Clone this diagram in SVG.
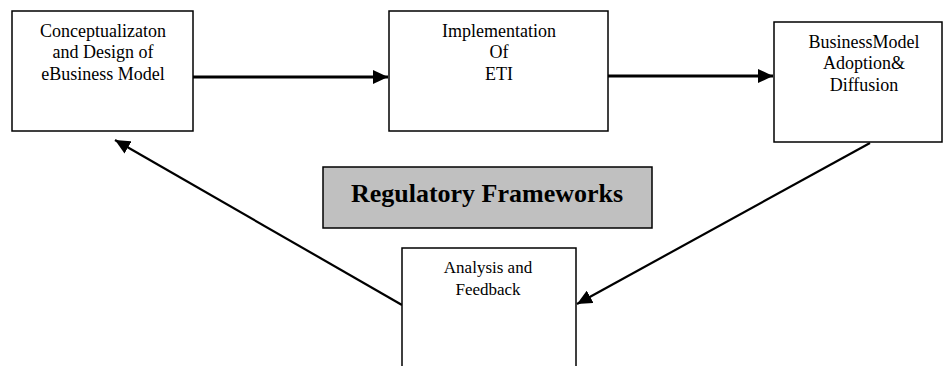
<svg xmlns="http://www.w3.org/2000/svg" width="943" height="366" viewBox="0 0 943 366">
<style>
.box{fill:#fff;stroke:#000;stroke-width:1.5}
.reg{fill:#c0c0c0;stroke:#000;stroke-width:1.5}
.t{font-family:"Liberation Serif","Times New Roman",serif;font-size:18px;fill:#000;text-anchor:middle}
.s{font-size:17px}
.b{font-family:"Liberation Serif","Times New Roman",serif;font-size:26px;font-weight:bold;fill:#000;text-anchor:middle}
.c{stroke:#000;fill:none}
</style>
<defs>
<marker id="ah" markerUnits="userSpaceOnUse" markerWidth="16" markerHeight="14" refX="15" refY="7" orient="auto">
<path d="M0,0 L15,7 L0,14 Z" fill="#000"/>
</marker>
</defs>
<rect width="943" height="366" fill="#fff"/>
<g id="connectors">
<line class="c" x1="193" y1="77" x2="388" y2="77" stroke-width="2.8" marker-end="url(#ah)"/>
<line class="c" x1="608" y1="76" x2="773" y2="76" stroke-width="2.8" marker-end="url(#ah)"/>
<line class="c" x1="870" y1="143" x2="577" y2="304" stroke-width="2.2" marker-end="url(#ah)"/>
<line class="c" x1="402" y1="305" x2="115" y2="140" stroke-width="2.2" marker-end="url(#ah)"/>
</g>
<g id="node-concept">
<rect class="box" x="12" y="11" width="181" height="120"/>
<text class="t" x="103" y="37">Conceptualizaton</text>
<text class="t" x="103" y="58">and Design of</text>
<text class="t" x="103" y="80">eBusiness Model</text>
</g>
<g id="node-impl">
<rect class="box" x="389" y="11" width="219" height="120"/>
<text class="t" x="499" y="37">Implementation</text>
<text class="t" x="499" y="58">Of</text>
<text class="t" x="499" y="80">ETI</text>
</g>
<g id="node-adoption">
<rect class="box" x="774" y="22" width="168" height="120"/>
<text class="t" x="864" y="48">BusinessModel</text>
<text class="t" x="864" y="69">Adoption&amp;</text>
<text class="t" x="864" y="91">Diffusion</text>
</g>
<g id="node-regulatory">
<rect class="reg" x="323" y="167" width="329" height="61"/>
<text class="b" x="487" y="202">Regulatory Frameworks</text>
</g>
<g id="node-analysis">
<rect class="box" x="402" y="248" width="174" height="130"/>
<text class="t s" x="488" y="273">Analysis and</text>
<text class="t s" x="488" y="295">Feedback</text>
</g>
</svg>
